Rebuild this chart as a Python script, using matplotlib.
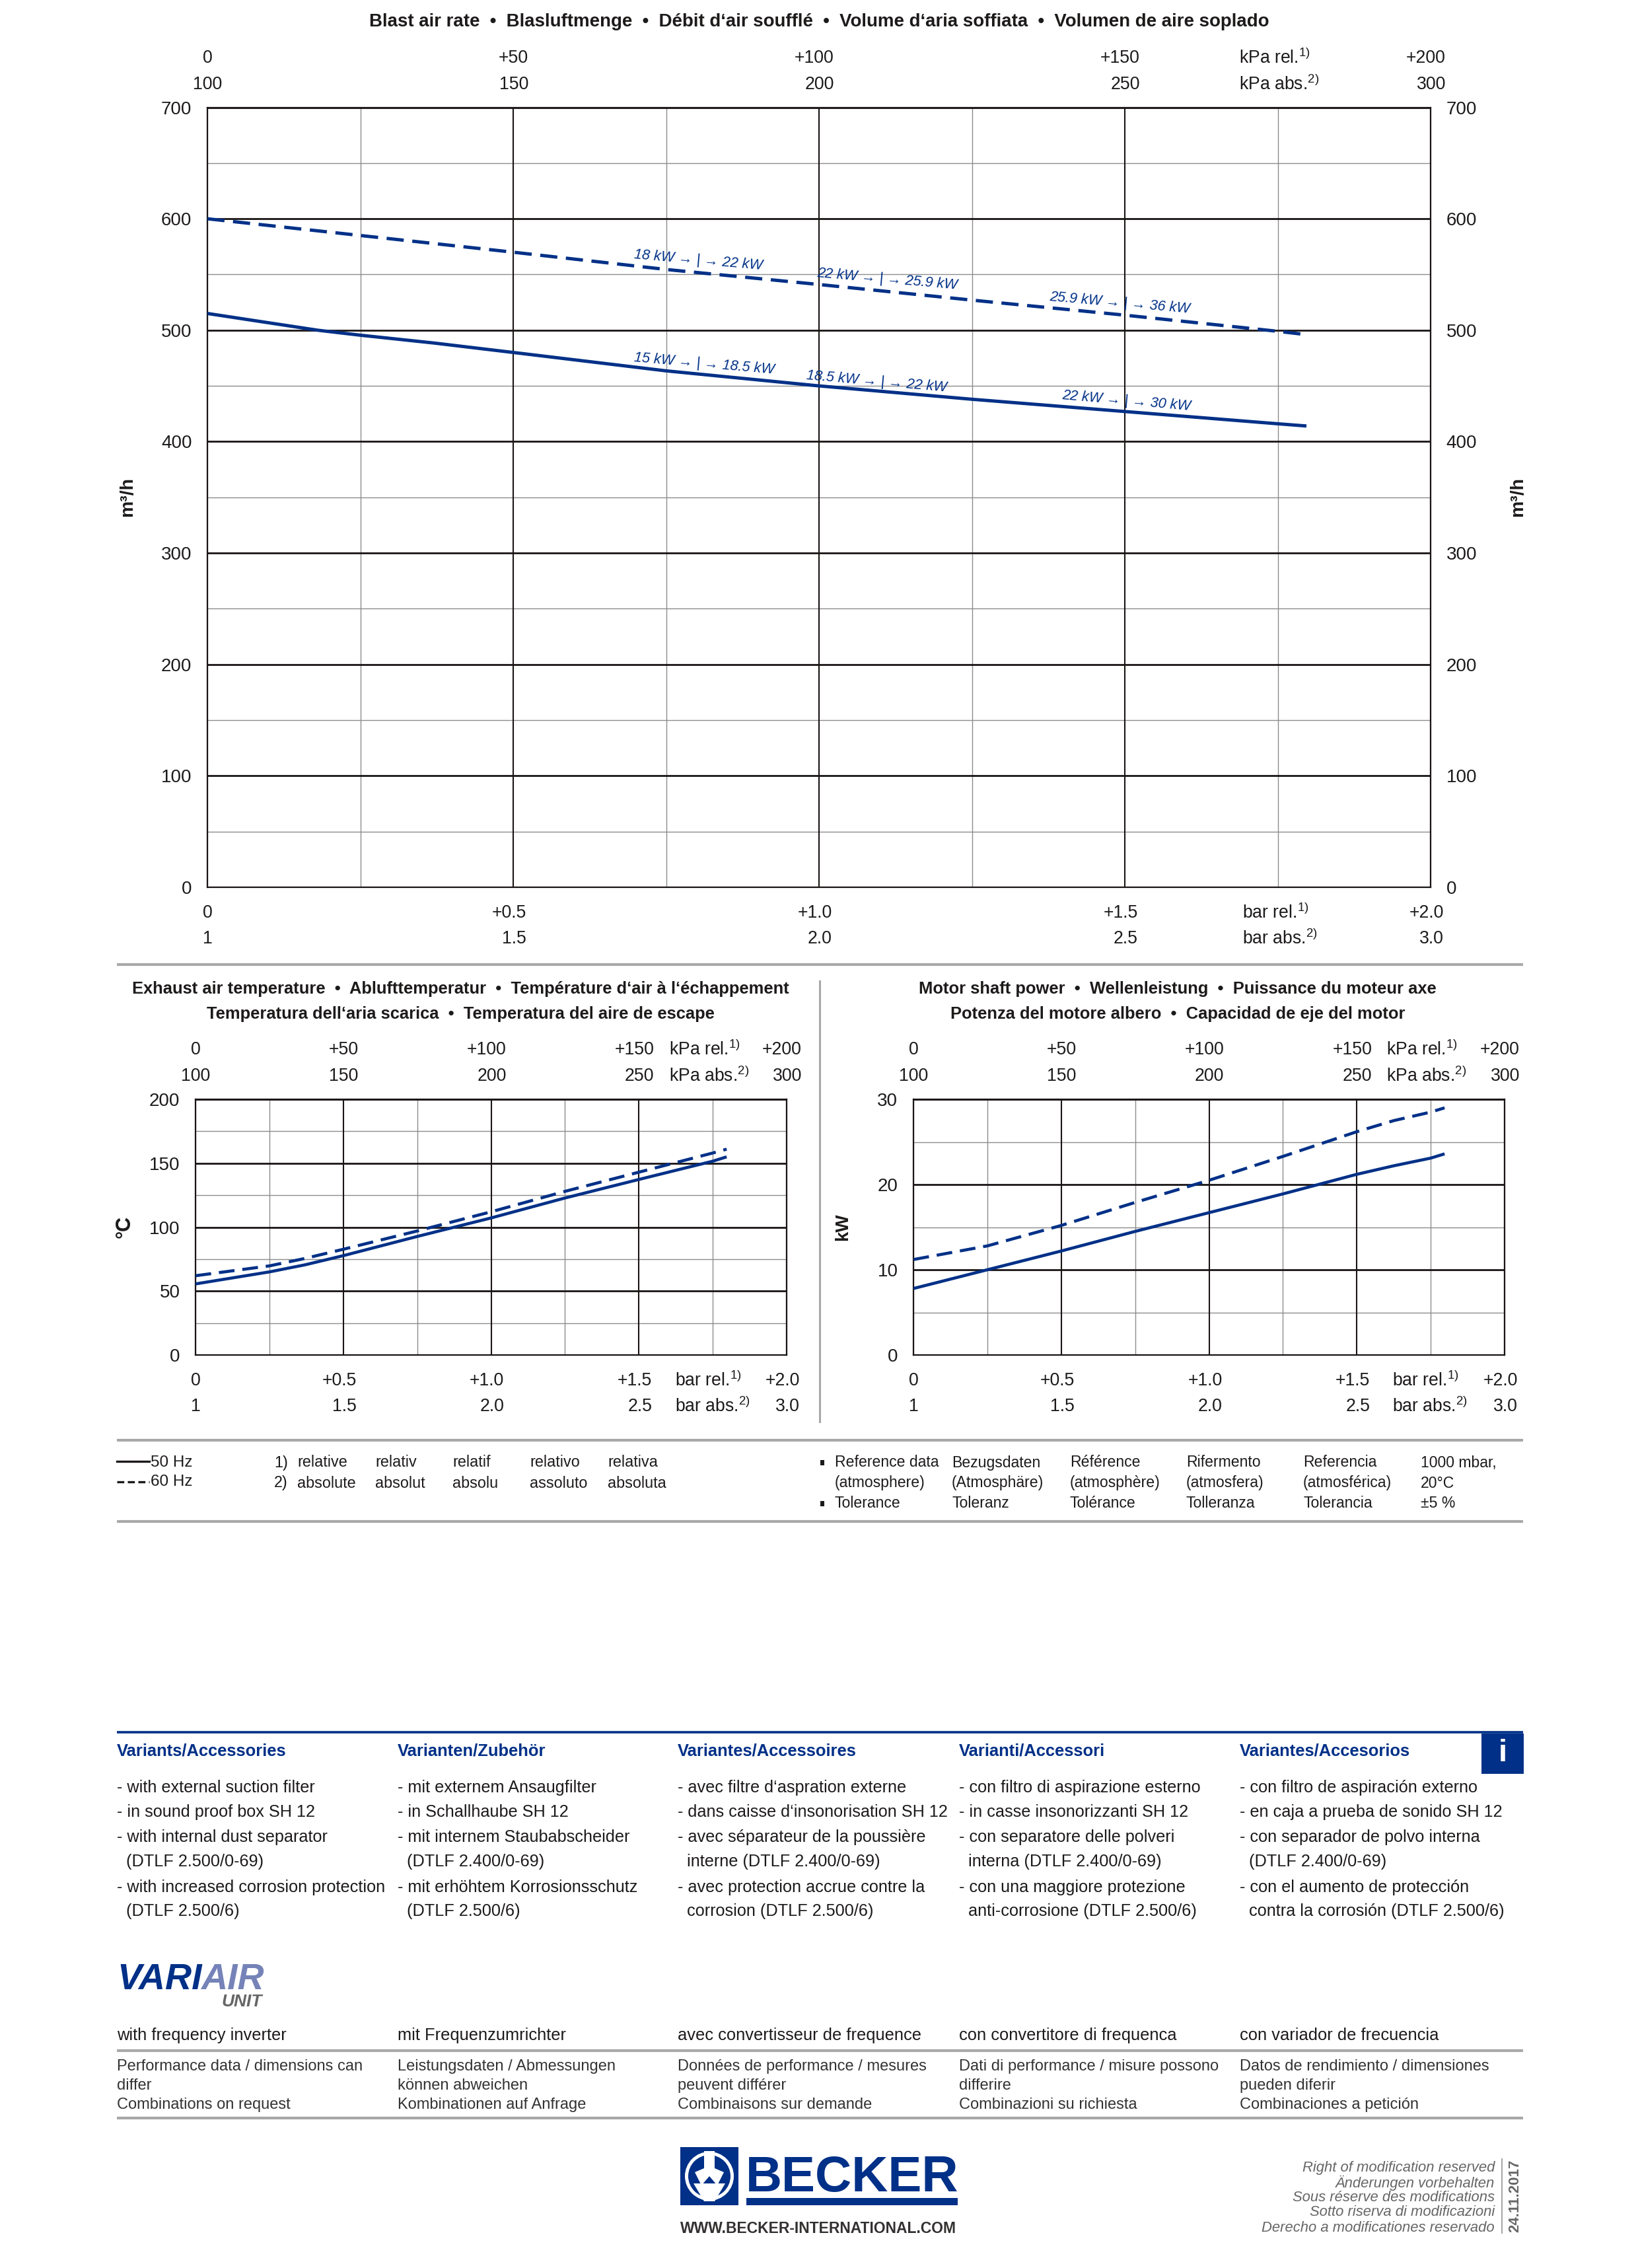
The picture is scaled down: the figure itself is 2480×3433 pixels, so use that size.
"""
Becker VARIAIR data sheet: blast air rate, exhaust temperature, shaft power.
"""

import matplotlib
matplotlib.use('Agg')
import matplotlib.pyplot as plt
from matplotlib.patches import Rectangle, Ellipse, Polygon

plt.rcParams['font.family'] = ['Liberation Sans', 'DejaVu Sans']
plt.rcParams['mathtext.fontset'] = 'custom'
plt.rcParams['mathtext.rm'] = 'Liberation Sans'
plt.rcParams['mathtext.default'] = 'rm'

BLUE = '#003087'
INK = '#1d1a1a'
GREY = '#a8a8a8'

# pressure axis (kPa rel.)
press_ticks = [0, 50, 100, 150, 200]
kpa_rel = ['0', '+50', '+100', '+150', '+200']
kpa_abs = ['100', '150', '200', '250', '300']
bar_rel = ['0', '+0.5', '+1.0', '+1.5', '+2.0']
bar_abs = ['1', '1.5', '2.0', '2.5', '3.0']

# blast air rate, m3/h
air_x_50 = [0, 18, 25, 37, 50, 75, 100, 125, 150, 175, 179.7]
air_50 = [515, 500, 495.5, 488.5, 480, 463.5, 450, 438, 427, 416, 414]
air_x_60 = [0, 50, 75, 100, 125, 150, 175, 179.7]
air_60 = [600, 570, 554.5, 541, 527, 513.5, 499, 496]

# exhaust air temperature, deg C
temp_x = [0, 25, 37, 50, 75, 100, 125, 150, 175, 179.7]
temp_50 = [55.6, 65, 70.5, 77.7, 92.7, 107.2, 122.8, 137.3, 151.6, 155]
temp_60 = [62, 69.7, 75.5, 82.7, 97, 112, 128, 143, 158, 161]

# motor shaft power, kW
power_x = [0, 25, 50, 75, 100, 125, 150, 162.5, 175, 179.7]
power_50 = [7.8, 10, 12.2, 14.5, 16.7, 18.9, 21.2, 22.2, 23.1, 23.6]
power_60 = [11.2, 12.8, 15.2, 17.9, 20.5, 23.3, 26.2, 27.5, 28.5, 29]

# motor change-over notes on the air rate chart
note_text = ['18 kW → | → 22 kW', '22 kW → | → 25.9 kW', '25.9 kW → | → 36 kW',
             '15 kW → | → 18.5 kW', '18.5 kW → | → 22 kW', '22 kW → | → 30 kW']
note_x = [80.3, 111.2, 149.2, 81.2, 109.4, 150.3]
note_y = [562.7, 545.8, 524, 469.5, 453.6, 436.2]

foot_1 = ['relative', 'relativ', 'relatif', 'relativo', 'relativa']
foot_2 = ['absolute', 'absolut', 'absolu', 'assoluto', 'absoluta']
ref_rows = [
    ['Reference data', 'Bezugsdaten', 'Référence', 'Rifermento', 'Referencia', '1000 mbar,'],
    ['(atmosphere)', '(Atmosphäre)', '(atmosphère)', '(atmosfera)', '(atmosférica)', '20°C'],
    ['Tolerance', 'Toleranz', 'Tolérance', 'Tolleranza', 'Tolerancia', '±5 %'],
]

variant_heads = ['Variants/Accessories', 'Varianten/Zubehör', 'Variantes/Accessoires',
                 'Varianti/Accessori', 'Variantes/Accesorios']
variant_rows = [
    ['- with external suction filter', '- in sound proof box SH 12', '- with internal dust separator',
     '  (DTLF 2.500/0-69)', '- with increased corrosion protection', '  (DTLF 2.500/6)'],
    ['- mit externem Ansaugfilter', '- in Schallhaube SH 12', '- mit internem Staubabscheider',
     '  (DTLF 2.400/0-69)', '- mit erhöhtem Korrosionsschutz', '  (DTLF 2.500/6)'],
    ['- avec filtre d‘aspration externe', '- dans caisse d‘insonorisation SH 12', '- avec séparateur de la poussière',
     '  interne (DTLF 2.400/0-69)', '- avec protection accrue contre la', '  corrosion (DTLF 2.500/6)'],
    ['- con filtro di aspirazione esterno', '- in casse insonorizzanti SH 12', '- con separatore delle polveri',
     '  interna (DTLF 2.400/0-69)', '- con una maggiore protezione', '  anti-corrosione (DTLF 2.500/6)'],
    ['- con filtro de aspiración externo', '- en caja a prueba de sonido SH 12', '- con separador de polvo interna',
     '  (DTLF 2.400/0-69)', '- con el aumento de protección', '  contra la corrosión (DTLF 2.500/6)'],
]
inverter = ['with frequency inverter', 'mit Frequenzumrichter', 'avec convertisseur de frequence',
            'con convertitore di frequenca', 'con variador de frecuencia']
perf_rows = [
    ['Performance data / dimensions can', 'differ', 'Combinations on request'],
    ['Leistungsdaten / Abmessungen', 'können abweichen', 'Kombinationen auf Anfrage'],
    ['Données de performance / mesures', 'peuvent différer', 'Combinaisons sur demande'],
    ['Dati di performance / misure possono', 'differire', 'Combinazioni su richiesta'],
    ['Datos de rendimiento / dimensiones', 'pueden diferir', 'Combinaciones a petición'],
]
rights = ['Right of modification reserved', 'Änderungen vorbehalten', 'Sous réserve des modifications',
          'Sotto riserva di modificazioni', 'Derecho a modificationes reservado']

W, H = 2480, 3433
fig = plt.figure(figsize=(W / 100, H / 100), dpi=100, facecolor='white')

# full page layer in pixel coordinates for the sheet furniture
page = fig.add_axes([0, 0, 1, 1], zorder=0)
page.set_xlim(0, W)
page.set_ylim(H, 0)
page.axis('off')


def txt(x, y, s, size=16.5, color=INK, ha='left', va='center', **kw):
    page.text(x, y, s, fontsize=size, color=color, ha=ha, va=va, **kw)


def rule(y, x0=177, x1=2306, color=GREY, lw=3):
    page.plot([x0, x1], [y, y], color=color, lw=lw, solid_capstyle='butt')


def chart(box, ymax, ymajor, yminor, x50, y50, x60, y60, lw, kpa_unit_x, bar_unit_x, right=False):
    left, top, right_edge, bottom = box
    ax = fig.add_axes([left / W, 1 - bottom / H, (right_edge - left) / W, (bottom - top) / H], zorder=2)
    ax.set_facecolor('none')
    ax.set_xlim(0, 200)
    ax.set_ylim(0, ymax)

    for v in press_ticks:
        ax.axvline(v, color='#1a1414', lw=1.5, zorder=2)
    for v in [25, 75, 125, 175]:
        ax.axvline(v, color='#8c8c8c', lw=1.0, zorder=1)
    for v in yminor:
        ax.axhline(v, color='#8c8c8c', lw=1.0, zorder=1)
    for v in ymajor:
        ax.axhline(v, color='#1a1414', lw=2.0, zorder=2)

    ax.plot(x50, y50, color=BLUE, lw=lw, zorder=4, solid_capstyle='butt')
    ax.plot(x60, y60, color=BLUE, lw=lw, zorder=4, linestyle=(0, (5.2, 2.6)), dash_capstyle='butt')

    ax.set_xticks([])
    ax.set_yticks(ymajor)
    ax.tick_params(axis='y', length=0, pad=17, labelsize=20, labelcolor=INK,
                   labelright=right, right=right)
    for s in ax.spines.values():
        s.set_color('#1a1414')
        s.set_linewidth(1.6)

    trans = ax.get_xaxis_transform()
    rows = [(kpa_rel, 1, 75), (kpa_abs, 1, 35), (bar_rel, 0, -39), (bar_abs, 0, -78)]
    for labels, base, dy in rows:
        for k, (v, s) in enumerate(zip(press_ticks, labels)):
            if k == 0:
                ax.annotate(s, (v, base), xycoords=trans, xytext=(0, dy), textcoords='offset pixels',
                            ha='center', va='center', fontsize=19.2, color=INK, annotation_clip=False)
            else:
                off = 23 if base == 1 else 20
                ax.annotate(s, (v, base), xycoords=trans, xytext=(off, dy), textcoords='offset pixels',
                            ha='right', va='center', fontsize=19.2, color=INK, annotation_clip=False)

    txt(kpa_unit_x, top - 75, 'kPa rel.$^{1)}$', size=19.2)
    txt(kpa_unit_x, top - 35, 'kPa abs.$^{2)}$', size=19.2)
    txt(bar_unit_x, bottom + 39, 'bar rel.$^{1)}$', size=19.2)
    txt(bar_unit_x, bottom + 78, 'bar abs.$^{2)}$', size=19.2)
    return ax


# blast air rate
txt(1240, 33, 'Blast air rate  •  Blasluftmenge  •  Débit d‘air soufflé  •  Volume d‘aria soffiata  •  Volumen de aire soplado',
    size=19.9, ha='center', fontweight='bold')
ax_air = chart((314, 162.5, 2166, 1343), 700, [0, 100, 200, 300, 400, 500, 600, 700], [50, 150, 250, 350, 450, 550, 650],
               air_x_50, air_50, air_x_60, air_60, 3.6, 1876, 1881, right=True)
for s, x, y in zip(note_text, note_x, note_y):
    ax_air.text(x, y, s, color=BLUE, fontsize=15.6, style='italic', rotation=-5, ha='center', va='center',
                rotation_mode='anchor', zorder=5)
txt(193, 752, 'm³/h', size=20.5, rotation=90, ha='center', fontweight='bold')
txt(2298, 752, 'm³/h', size=20.5, rotation=90, ha='center', fontweight='bold')

# exhaust temperature and shaft power
rule(1460)
page.plot([1241, 1241], [1485, 2152], color=GREY, lw=2.2)
txt(697, 1497, 'Exhaust air temperature  •  Ablufttemperatur  •  Température d‘air à l‘échappement',
    size=18.4, ha='center', fontweight='bold')
txt(697, 1535, 'Temperatura dell‘aria scarica  •  Temperatura del aire de escape', size=18.4, ha='center', fontweight='bold')
txt(1783, 1497, 'Motor shaft power  •  Wellenleistung  •  Puissance du moteur axe', size=18.4, ha='center', fontweight='bold')
txt(1783, 1535, 'Potenza del motore albero  •  Capacidad de eje del motor', size=18.4, ha='center', fontweight='bold')

chart((296, 1664, 1191, 2051), 200, [0, 50, 100, 150, 200], [25, 75, 125, 175],
      temp_x, temp_50, temp_x, temp_60, 3.3, 1013, 1022)
chart((1383, 1664, 2278, 2051), 30, [0, 10, 20, 30], [5, 15, 25],
      power_x, power_50, power_x, power_60, 3.3, 2099, 2108)
txt(189, 1857, '°C', size=22, rotation=90, ha='center', fontweight='bold')
txt(1276, 1857, 'kW', size=20, rotation=90, ha='center', fontweight='bold')

# legend and reference conditions
rule(2180)
page.plot([177, 226], [2212, 2212], color=INK, lw=2.4)
page.plot([177, 226], [2243, 2243], color=INK, lw=2.4, linestyle=(0, (3.2, 1.6)))
txt(228, 2214, '50 Hz', size=17.5)
txt(228, 2243, '60 Hz', size=17.5)

txt(415, 2214, '1)', size=16.8)
txt(415, 2245, '2)', size=16.8)
for x, a, b in zip([450, 568, 685, 802, 920], foot_1, foot_2):
    txt(x, 2214, a, size=16.8)
    txt(x, 2245, b, size=16.8)

ref_x = [1264, 1441, 1620, 1796, 1973, 2151]
for y, row in zip([2214, 2245, 2276], ref_rows):
    for x, s in zip(ref_x, row):
        txt(x, y, s, size=16.6)
page.add_patch(Rectangle((1242, 2210), 6, 8, color=INK, lw=0))
page.add_patch(Rectangle((1242, 2272), 6, 8, color=INK, lw=0))
rule(2303)

# variants and accessories
rule(2622, color=BLUE, lw=2.6)
page.add_patch(Rectangle((2243, 2624), 64, 61, color=BLUE, lw=0))
txt(2275, 2654, 'i', size=34, color='white', ha='center', fontweight='bold')

col_x = [177, 601.5, 1026, 1452, 1877]
variant_y = [2706, 2743, 2781, 2818, 2857, 2893]
for x, head, rows, inv, perf in zip(col_x, variant_heads, variant_rows, inverter, perf_rows):
    txt(x, 2651, head, size=18.4, color=BLUE, fontweight='bold')
    for y, s in zip(variant_y, rows):
        txt(x, y, s, size=18.2)
    txt(x, 3081, inv, size=18.4)
    for y, s in zip([3128, 3157, 3186], perf):
        txt(x, y, s, size=17, color='#333333')
rule(3104)
rule(3206)

# VARIAIR logo
txt(177, 3011, 'VARI', size=40, color=BLUE, fontweight='bold', style='italic', va='baseline')
txt(304, 3011, 'AIR', size=40, color='#7583b8', fontweight='bold', style='italic', va='baseline')
txt(397, 3030, 'UNIT', size=19, color='#666666', fontweight='bold', style='italic', ha='right')

# Becker logo
page.add_patch(Rectangle((1030, 3250), 88, 88, color=BLUE, lw=0))
page.add_patch(Ellipse((1074, 3294), 74, 74, fc='white', lw=0))
page.add_patch(Ellipse((1074, 3294), 64, 64, fc=BLUE, lw=0))
page.add_patch(Polygon([(1066, 3256), (1082, 3256), (1082, 3282), (1096, 3288), (1086, 3308), (1074, 3294),
                        (1062, 3308), (1052, 3288), (1066, 3282)], fc='white', lw=0))
page.add_patch(Polygon([(1050, 3305), (1098, 3305), (1082, 3332), (1066, 3332)], fc='white', lw=0))
txt(1129, 3317, 'BECKER', size=55, color=BLUE, fontweight='bold', va='baseline')
page.add_patch(Rectangle((1130, 3327), 320, 11, color=BLUE, lw=0))
txt(1030, 3373, 'WWW.BECKER-INTERNATIONAL.COM', size=16.5, color='#333030', fontweight='bold')

for y, s in zip([3281, 3304, 3327, 3349, 3372], rights):
    txt(2263, y, s, size=15.8, color='#666666', ha='right', style='italic')
page.plot([2274, 2274], [3268, 3380], color=GREY, lw=1.5)
txt(2294, 3324, '24.11.2017', size=16, color='#666666', rotation=90, ha='center', fontweight='bold')

fig.savefig('out.png', dpi=100, facecolor='white')
